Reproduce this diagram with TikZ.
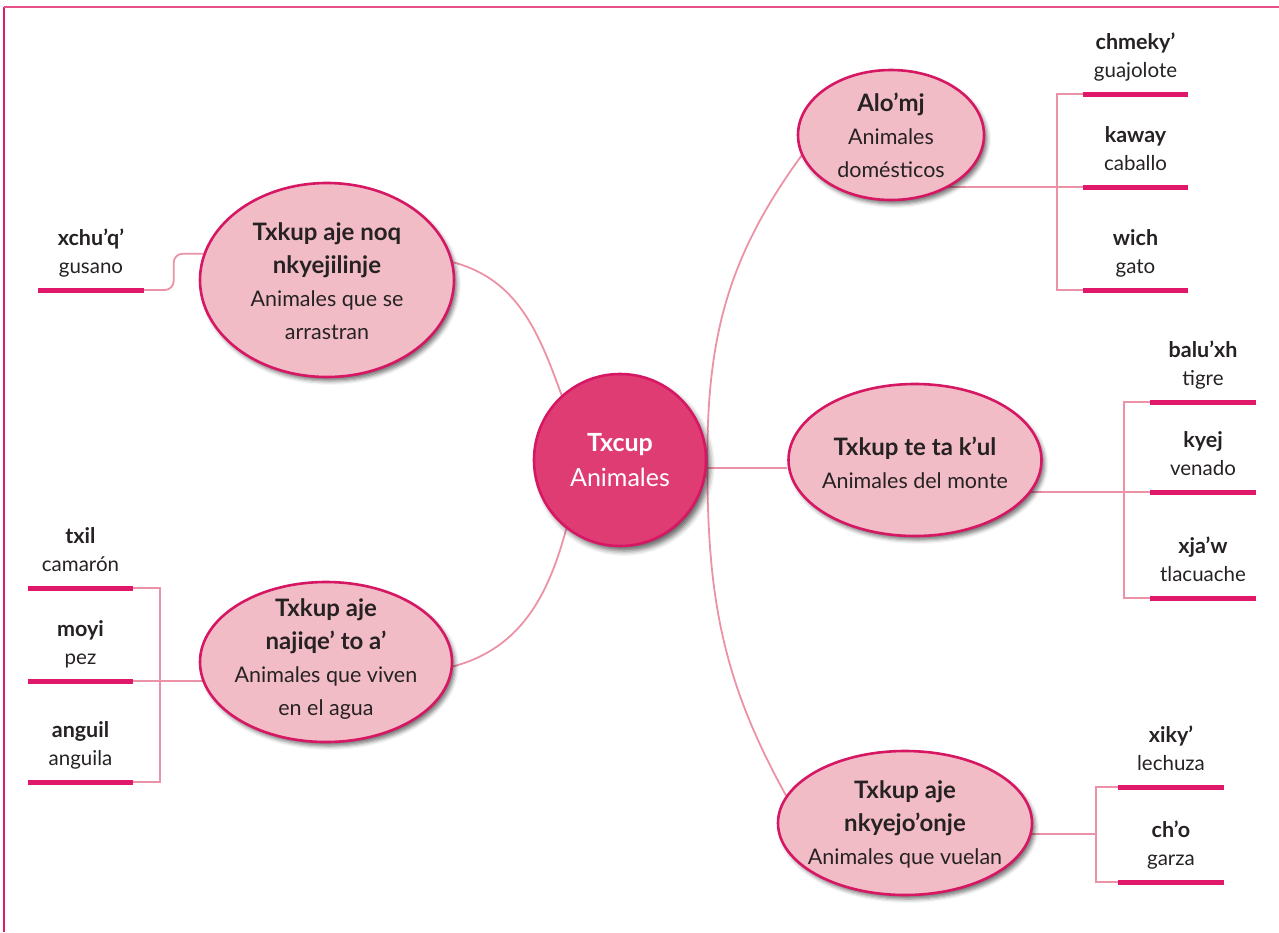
\documentclass[tikz,border=0pt]{standalone}
\usepackage{fontspec}
\setmainfont{Lato}
\usetikzlibrary{shapes.geometric,shadows.blur,calc}
\definecolor{magbar}{RGB}{224,24,106}
\definecolor{ellfill}{RGB}{242,188,198}
\definecolor{ellline}{RGB}{214,24,100}
\definecolor{ctrfill}{RGB}{223,60,115}
\definecolor{conncol}{RGB}{236,146,166}
\definecolor{txt}{RGB}{38,34,35}
\definecolor{topline}{RGB}{232,80,138}
\pgfdeclarelayer{bg}
\pgfsetlayers{bg,main}
\newcommand\eb[1]{{\fontsize{24}{33}\selectfont\bfseries #1}}
\newcommand\leafitem[6]{%
  \coordinate (#1L) at (#2,#4);
  \coordinate (#1R) at (#3,#4);
  \draw[barline] (#1L) -- (#1R);
  \node[leafreg] (#1s) at ($(#1L)!0.5!(#1R)+(0,-17)$) {#6};
  \node[leafbold] (#1b) at ($(#1L)!0.5!(#1R)+(0,-45)$) {#5};
}
\begin{document}
\begin{tikzpicture}[x=1pt,y=-1pt,
  ell/.style={ellipse, draw=ellline, line width=2.6pt, fill=ellfill, inner sep=0pt,
    blur shadow={shadow xshift=3pt, shadow yshift=-4pt, shadow blur radius=4pt, shadow opacity=55}},
  elltext/.style={inner sep=0pt, align=center, text=txt, font=\fontsize{21.5}{33}\selectfont},
  ctrst/.style={circle, draw=ellline, line width=2.6pt, fill=ctrfill, inner sep=0pt,
    minimum size=172pt, align=center, text=white, font=\fontsize{25}{35}\selectfont,
    blur shadow={shadow xshift=4pt, shadow yshift=-5pt, shadow blur radius=5pt, shadow opacity=60}},
  conn/.style={draw=conncol, line width=1.8pt},
  barline/.style={draw=magbar, line width=5pt},
  leafreg/.style={anchor=base, inner sep=0pt, text=txt, font=\fontsize{20.5}{28}\selectfont},
  leafbold/.style={anchor=base, inner sep=0pt, text=txt, font=\fontsize{21.5}{28}\selectfont\bfseries},
  frameline/.style={draw=magbar, line width=2.4pt},
  topframe/.style={draw=topline, line width=2.4pt}
]
\useasboundingbox (0,0) rectangle (1279,932);
% frame
\coordinate (fTL) at (4,7);
\coordinate (fBL) at (4,932);
\coordinate (fTR) at (1279,7);
\draw[frameline] (fTL) -- (fBL);
\draw[topframe] (fTL) -- (fTR);

% central node
\node[ctrst] (ctr) at (620,460) {\textbf{Txcup}\\Animales};

% category ellipses
\node[ell, minimum width=186pt, minimum height=130pt] (alo) at (891,135) {};
\node[elltext] (alo-t) at (alo.center) {\eb{Alo’mj}\\Animales\\domésticos};
\node[ell, minimum width=254pt, minimum height=194pt] (arr) at (327,280) {};
\node[elltext] (arr-t) at ($(arr.center)+(0,1)$) {\eb{Txkup aje noq}\\\eb{nkyejilinje}\\Animales que se\\arrastran};
\node[ell, minimum width=253pt, minimum height=152pt] (mon) at (915,460) {};
\node[elltext] (mon-t) at ($(mon.center)+(0,3)$) {\eb{Txkup te ta k’ul}\\Animales del monte};
\node[ell, minimum width=252pt, minimum height=160pt] (agua) at (326,662) {};
\node[elltext] (agua-t) at ($(agua.center)+(0,-3)$) {\eb{Txkup aje}\\\eb{najiqe’ to a’}\\Animales que viven\\en el agua};
\node[ell, minimum width=254pt, minimum height=144pt] (vuel) at (905,823) {};
\node[elltext] (vuel-t) at ($(vuel.center)+(0,1)$) {\eb{Txkup aje}\\\eb{nkyejo’onje}\\Animales que vuelan};

% leaves
\leafitem{a1}{1083}{1188}{94}{chmeky’}{guajolote}
\leafitem{a2}{1083}{1188}{187}{kaway}{caballo}
\leafitem{a3}{1083}{1188}{290}{wich}{gato}
\leafitem{c1}{1150}{1256}{402}{balu’xh}{tigre}
\leafitem{c2}{1150}{1256}{492}{kyej}{venado}
\leafitem{c3}{1150}{1256}{598}{xja’w}{tlacuache}
\leafitem{e1}{1118}{1224}{787}{xiky’}{lechuza}
\leafitem{e2}{1118}{1224}{882}{ch’o}{garza}
\leafitem{d1}{28}{133}{588}{txil}{camarón}
\leafitem{d2}{28}{133}{681}{moyi}{pez}
\leafitem{d3}{28}{133}{782}{anguil}{anguila}
\leafitem{g1}{38}{144}{290}{xchu’q’}{gusano}

\coordinate (abr) at (1057,187);
\coordinate (cbr) at (1124,492);
\coordinate (ebr) at (1096,834);
\coordinate (dbr) at (160,681);

\begin{pgfonlayer}{bg}
  % from centre
  \draw[conn] (ctr.east) to[out=90,in=234] (alo.193);
  \draw[conn] (ctr.east) to[out=-90,in=119] (vuel.167);
  \draw[conn] (ctr.355) -- (ctr.355 -| mon.west);
  \draw[conn] (arr.8) to[out=-15,in=110] (ctr.132);
  \draw[conn] (ctr.232) to[out=-105,in=15] (agua.-2);
  % domestic
  \draw[conn] (alo.center |- a2L) -- (a2L);
  \draw[conn] (a1L) -| (abr) |- (a3L);
  % monte
  \draw[conn] (mon.center |- c2L) -- (c2L);
  \draw[conn] (c1L) -| (cbr) |- (c3L);
  % vuelan
  \draw[conn] (vuel.center |- ebr) -- (ebr);
  \draw[conn] (e1L) -| (ebr) |- (e2L);
  % agua
  \draw[conn] (d2R) -- (agua.center |- d2R);
  \draw[conn] (d1R) -| (dbr) |- (d3R);
  % arrastran
  \draw[conn, rounded corners=9pt] (g1R) -| ($(g1R)!0.5!(arr.168)$) |- (arr.168);
\end{pgfonlayer}
\end{tikzpicture}
\end{document}
